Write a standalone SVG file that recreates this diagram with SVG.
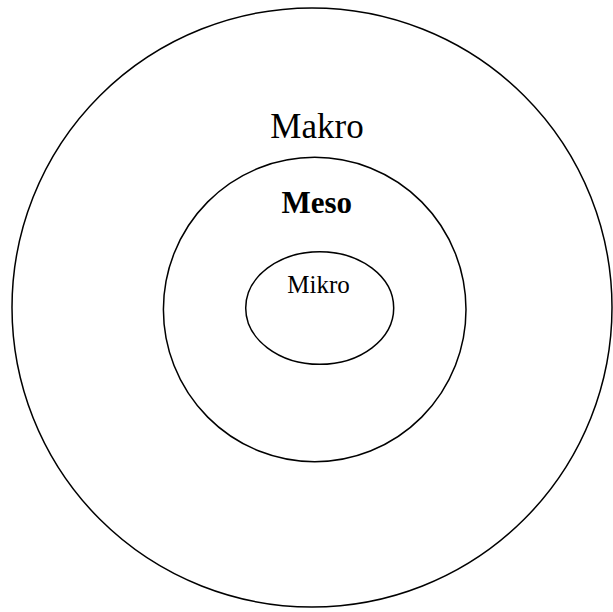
<svg xmlns="http://www.w3.org/2000/svg" width="613" height="612" viewBox="0 0 613 612">
<style>
.c{fill:none;stroke:#000;stroke-width:1.5}
.t{font-family:"Liberation Serif","Times New Roman",serif;fill:#000;text-anchor:middle}
</style>
<rect width="613" height="612" fill="#fff"/>
<g id="makro">
<ellipse class="c" cx="312" cy="307.5" rx="300" ry="299.5"/>
<text class="t" x="317" y="137.5" font-size="35">Makro</text>
</g>
<g id="meso">
<ellipse class="c" cx="314.7" cy="309.5" rx="151.3" ry="152.2"/>
<text class="t" x="316.7" y="212.5" font-size="31" font-weight="bold">Meso</text>
</g>
<g id="mikro">
<ellipse class="c" cx="319.7" cy="308" rx="74" ry="56.3"/>
<text class="t" x="318.5" y="293.3" font-size="25">Mikro</text>
</g>
<g id="connectors"/>
</svg>
